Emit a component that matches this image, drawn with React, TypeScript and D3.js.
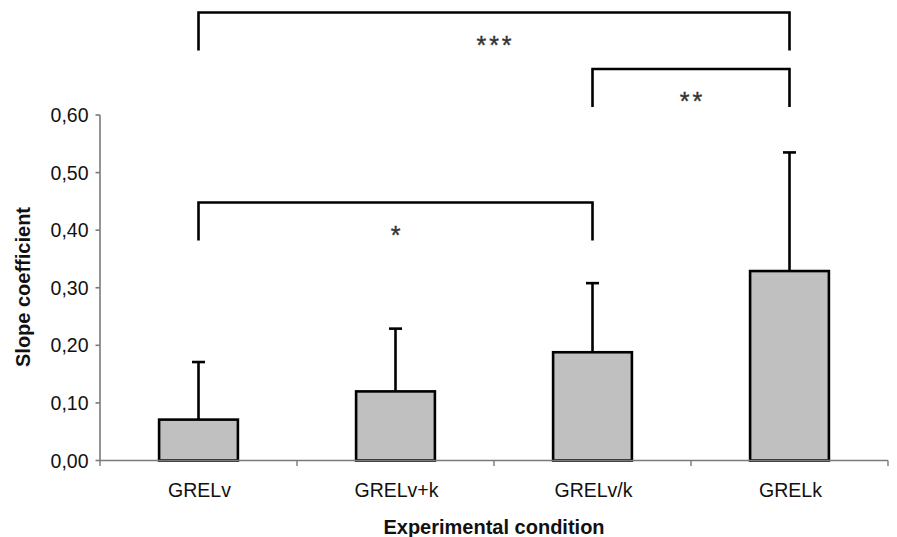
import React from "react";
import * as d3 from "d3";

const categories = ["GRELv", "GRELv+k", "GRELv/k", "GRELk"];
const means = [0.071, 0.12, 0.188, 0.329];
const errors = [0.1, 0.109, 0.12, 0.206];
const yTicks = [0, 0.1, 0.2, 0.3, 0.4, 0.5, 0.6];
const brackets = [
  { from: 0, to: 3, label: "***", level: 0.778 },
  { from: 2, to: 3, label: "**", level: 0.680 },
  { from: 0, to: 2, label: "*", level: 0.448 },
];

const W = 897;
const H = 537;
const FONT = "'Liberation Sans', Arial, sans-serif";

export default function App() {
  const x = d3.scaleBand<string>().domain(categories).range([100, 888]).padding(0);
  const y = d3.scaleLinear().domain([0, 0.6]).range([460.5, 115]);
  const bw = x.bandwidth() * 0.4;
  const cx = (i: number) => (x(categories[i]) as number) + x.bandwidth() / 2;
  const fmt = (v: number) => v.toFixed(2).replace(".", ",");
  const legLen = 38;

  return (
    <svg width={W} height={H} style={{ position: "absolute", left: 0, top: 0, background: "#fff" }}>
      <rect x={0} y={0} width={W} height={H} fill="#fff" />
      {/* y axis */}
      <line x1={100} x2={100} y1={115} y2={461} stroke="#7a7a7a" strokeWidth={1.6} />
      {yTicks.map((t) => (
        <g key={t}>
          <line x1={95.5} x2={100} y1={y(t)} y2={y(t)} stroke="#7a7a7a" strokeWidth={1.6} />
          <text x={88.5} y={y(t) + 7} textAnchor="end" fontFamily={FONT} fontSize={19.5} fill="#111">
            {fmt(t)}
          </text>
        </g>
      ))}
      {/* bars */}
      {categories.map((c, i) => (
        <g key={c}>
          <line x1={cx(i)} x2={cx(i)} y1={y(means[i])} y2={y(means[i] + errors[i])} stroke="#000" strokeWidth={2.6} />
          <line x1={cx(i) - 6.5} x2={cx(i) + 6.5} y1={y(means[i] + errors[i])} y2={y(means[i] + errors[i])} stroke="#000" strokeWidth={2.6} />
          <rect x={cx(i) - bw / 2} y={y(means[i])} width={bw} height={y(0) - y(means[i])} fill="#c0c0c0" stroke="#000" strokeWidth={2.6} />
          <text x={cx(i) + 1} y={497} textAnchor="middle" fontFamily={FONT} fontSize={19.5} fill="#111">
            {c}
          </text>
        </g>
      ))}
      {/* x axis */}
      <line x1={100} x2={888} y1={y(0)} y2={y(0)} stroke="#7a7a7a" strokeWidth={1.6} />
      {d3.range(0, 5).map((k) => {
        const xx = 100 + k * x.step();
        return <line key={k} x1={xx} x2={xx} y1={y(0)} y2={y(0) + 5.5} stroke="#7a7a7a" strokeWidth={1.4} />;
      })}
      {/* brackets */}
      {brackets.map((b) => {
        const top = y(b.level);
        const x1 = cx(b.from);
        const x2 = cx(b.to);
        return (
          <g key={b.label}>
            <path
              d={`M${x1},${top + legLen} L${x1},${top} L${x2},${top} L${x2},${top + legLen}`}
              fill="none"
              stroke="#000"
              strokeWidth={2.6}
            />
            <text x={(x1 + x2) / 2 + 1.5} y={top + 41} textAnchor="middle" fontFamily={FONT} fontSize={25} letterSpacing={3} fill="#333" stroke="#333" strokeWidth={0.4}>
              {b.label}
            </text>
          </g>
        );
      })}
      {/* axis titles */}
      <text x={494} y={534} textAnchor="middle" fontFamily={FONT} fontWeight="bold" fontSize={20} fill="#111">
        Experimental condition
      </text>
      <text
        transform={`translate(30,287) rotate(-90)`}
        textAnchor="middle"
        fontFamily={FONT}
        fontWeight="bold"
        fontSize={20}
        fill="#111"
      >
        Slope coefficient
      </text>
    </svg>
  );
}
